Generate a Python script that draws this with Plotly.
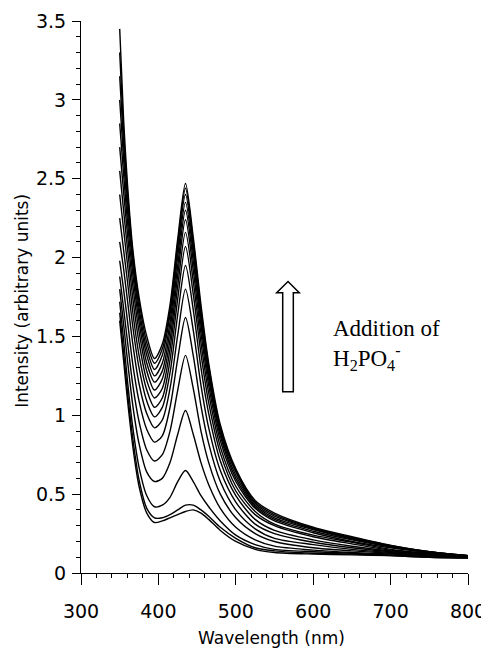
import plotly.graph_objects as go

# Wavelength grid (nm)
wavelength = [350, 355, 360, 367, 375, 385, 395, 405, 415, 425, 435, 445, 455, 465, 480, 500, 525, 550, 600, 650, 700, 750, 800]

# Spectra, from the lowest (no H2PO4-) to the highest
c01 = [1.60, 1.35, 1.10, 0.80, 0.55, 0.38, 0.32, 0.33, 0.35, 0.37, 0.39, 0.40, 0.38, 0.34, 0.27, 0.20, 0.15, 0.13, 0.12, 0.115, 0.11, 0.10, 0.095]
c02 = [1.65, 1.40, 1.15, 0.85, 0.59, 0.41, 0.35, 0.35, 0.37, 0.40, 0.43, 0.43, 0.40, 0.36, 0.29, 0.22, 0.16, 0.14, 0.125, 0.12, 0.11, 0.10, 0.095]
c03 = [1.72, 1.48, 1.22, 0.92, 0.67, 0.49, 0.42, 0.43, 0.48, 0.58, 0.65, 0.58, 0.49, 0.42, 0.33, 0.24, 0.18, 0.15, 0.135, 0.125, 0.115, 0.105, 0.10]
c04 = [1.80, 1.58, 1.35, 1.06, 0.82, 0.64, 0.58, 0.60, 0.70, 0.88, 1.03, 0.88, 0.70, 0.56, 0.41, 0.29, 0.21, 0.17, 0.145, 0.13, 0.12, 0.11, 0.10]
c05 = [1.88, 1.68, 1.47, 1.19, 0.96, 0.78, 0.71, 0.75, 0.90, 1.16, 1.38, 1.17, 0.90, 0.70, 0.50, 0.35, 0.25, 0.20, 0.16, 0.14, 0.125, 0.11, 0.10]
c06 = [1.98, 1.80, 1.60, 1.32, 1.09, 0.91, 0.83, 0.87, 1.05, 1.36, 1.62, 1.38, 1.06, 0.82, 0.58, 0.40, 0.28, 0.22, 0.18, 0.15, 0.13, 0.115, 0.10]
c07 = [2.10, 1.93, 1.73, 1.45, 1.20, 1.01, 0.92, 0.97, 1.17, 1.51, 1.80, 1.54, 1.19, 0.92, 0.65, 0.45, 0.31, 0.25, 0.195, 0.16, 0.135, 0.12, 0.10]
c08 = [2.25, 2.05, 1.85, 1.56, 1.30, 1.09, 0.99, 1.05, 1.27, 1.64, 1.95, 1.67, 1.30, 1.01, 0.71, 0.49, 0.34, 0.27, 0.21, 0.17, 0.14, 0.12, 0.105]
c09 = [2.40, 2.18, 1.96, 1.65, 1.38, 1.16, 1.05, 1.11, 1.35, 1.74, 2.07, 1.77, 1.39, 1.08, 0.76, 0.52, 0.37, 0.30, 0.23, 0.185, 0.145, 0.125, 0.105]
c10 = [2.55, 2.30, 2.06, 1.74, 1.46, 1.22, 1.11, 1.17, 1.42, 1.82, 2.16, 1.85, 1.46, 1.14, 0.80, 0.55, 0.39, 0.31, 0.24, 0.195, 0.15, 0.125, 0.105]
c11 = [2.70, 2.42, 2.15, 1.82, 1.53, 1.28, 1.16, 1.23, 1.48, 1.89, 2.24, 1.92, 1.52, 1.19, 0.84, 0.58, 0.41, 0.33, 0.255, 0.20, 0.16, 0.13, 0.105]
c12 = [2.85, 2.53, 2.23, 1.89, 1.59, 1.33, 1.21, 1.28, 1.54, 1.95, 2.30, 1.98, 1.57, 1.23, 0.87, 0.60, 0.42, 0.34, 0.265, 0.21, 0.165, 0.13, 0.11]
c13 = [3.00, 2.63, 2.30, 1.95, 1.64, 1.38, 1.25, 1.33, 1.59, 2.01, 2.35, 2.03, 1.61, 1.26, 0.89, 0.62, 0.43, 0.35, 0.275, 0.215, 0.17, 0.13, 0.11]
c14 = [3.15, 2.72, 2.37, 1.99, 1.68, 1.42, 1.29, 1.38, 1.64, 2.06, 2.40, 2.07, 1.64, 1.28, 0.91, 0.64, 0.44, 0.36, 0.28, 0.22, 0.17, 0.135, 0.11]
c15 = [3.30, 2.80, 2.42, 2.02, 1.72, 1.46, 1.33, 1.42, 1.67, 2.09, 2.44, 2.10, 1.67, 1.31, 0.92, 0.65, 0.45, 0.37, 0.285, 0.225, 0.175, 0.135, 0.11]
c16 = [3.45, 2.88, 2.47, 2.05, 1.75, 1.50, 1.36, 1.45, 1.70, 2.12, 2.47, 2.13, 1.70, 1.33, 0.94, 0.66, 0.46, 0.38, 0.29, 0.23, 0.175, 0.135, 0.11]

spectra = [c01, c02, c03, c04, c05, c06, c07, c08, c09, c10, c11, c12, c13, c14, c15, c16]

x_ticks = [300, 400, 500, 600, 700, 800]
y_ticks = [0, 0.5, 1, 1.5, 2, 2.5, 3, 3.5]

fig = go.Figure()
for s in spectra:
    fig.add_trace(go.Scatter(x=wavelength, y=s, mode="lines",
                             line=dict(color="black", width=1.4, shape="spline", smoothing=0.8),
                             showlegend=False, hoverinfo="skip"))

# hollow arrow (annotation)
fig.add_shape(type="path",
              path="M 560.6 1.150 L 574.3 1.150 L 574.3 1.777 L 582 1.777 L 567.45 1.848 "
                   "L 552.8 1.777 L 560.6 1.777 Z",
              xref="x", yref="y", line=dict(color="black", width=1.5), fillcolor="white")

fig.add_annotation(x=623, y=1.447, xref="x", yref="y", xanchor="left", yanchor="middle",
                   text="Addition of<br>H<sub>2</sub>PO<sub>4</sub><sup>-</sup>", showarrow=False,
                   align="left", font=dict(family="Liberation Serif", size=23, color="black"))

# axis titles
fig.add_annotation(x=-0.1525, y=0.493, xref="paper", yref="paper", textangle=-90,
                   text="Intensity (arbitrary units)", showarrow=False,
                   xanchor="center", yanchor="middle",
                   font=dict(family="DejaVu Sans", size=17, color="black"))
fig.add_annotation(x=0.492, y=-0.1178, xref="paper", yref="paper",
                   text="Wavelength (nm)", showarrow=False,
                   xanchor="center", yanchor="middle",
                   font=dict(family="DejaVu Sans", size=17, color="black"))

fig.update_layout(
    width=489, height=649,
    margin=dict(l=73, r=29, t=13, b=84, autoexpand=False),
    paper_bgcolor="white", plot_bgcolor="white",
    font=dict(family="DejaVu Sans", size=19, color="black"),
    xaxis=dict(range=[300, 800], tickvals=x_ticks, ticks="outside", ticklen=11, tickwidth=1,
               tickcolor="black", showline=True, linecolor="black", linewidth=1,
               showgrid=False, zeroline=False, ticklabelstandoff=10, automargin=False,
               minor=dict(dtick=20, tick0=300, ticks="outside", ticklen=4, tickcolor="black", showgrid=False)),
    yaxis=dict(range=[0, 3.5], tickvals=y_ticks, ticks="outside", ticklen=8, tickwidth=1,
               tickcolor="black", showline=True, linecolor="black", linewidth=1,
               showgrid=False, zeroline=False, ticklabelstandoff=2, automargin=False,
               minor=dict(dtick=0.1, tick0=0, ticks="outside", ticklen=4, tickcolor="black", showgrid=False)),
)

fig.write_html("out.html")
